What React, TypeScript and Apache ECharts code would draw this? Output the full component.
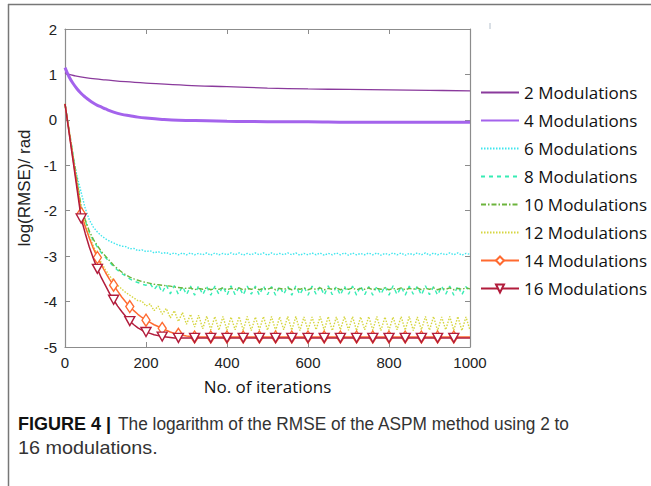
import React, { useEffect, useRef } from "react";
import * as echarts from "echarts";

// iteration sampling grid (every 10 iterations)
const ITERATIONS = Array.from({ length: 101 }, (_, i) => i * 10);

const SERIES_NAMES = [
  "2 Modulations",
  "4 Modulations",
  "6 Modulations",
  "8 Modulations",
  "10 Modulations",
  "12 Modulations",
  "14 Modulations",
  "16 Modulations",
];

const X_TICK_STEP = 200;
const Y_TICK_STEP = 1;

// 2 and 4 modulations (smooth, read at sparse iterations)
const MOD2_X = [0, 10, 25, 50, 75, 100, 150, 200, 300, 400, 500, 600, 700, 800, 900, 1000];
const MOD2_Y = [1.04, 1.0, 0.97, 0.93, 0.9, 0.88, 0.84, 0.81, 0.76, 0.73, 0.7, 0.68, 0.67, 0.66, 0.65, 0.64];

const MOD4_X = [0, 10, 20, 30, 40, 50, 60, 70, 80, 90, 100, 120, 140, 160, 180, 200, 240, 280, 350, 400, 500, 600, 700, 800, 1000];
const MOD4_Y = [1.15, 0.95, 0.8, 0.68, 0.58, 0.5, 0.43, 0.37, 0.32, 0.28, 0.24, 0.17, 0.12, 0.09, 0.06, 0.04, 0.01, -0.01, -0.02, -0.03, -0.04, -0.04, -0.05, -0.05, -0.05];

// remaining series, one value per 10 iterations (0..1000)
const MOD6 = [
  0.35, -0.25, -0.8, -1.25, -1.6, -1.95, -2.2, -2.36, -2.47, -2.55,
  -2.62, -2.67, -2.71, -2.75, -2.78, -2.79, -2.84, -2.83, -2.88, -2.86,
  -2.9, -2.88, -2.93, -2.9, -2.94, -2.92, -2.96, -2.93, -2.97, -2.93,
  -2.97, -2.93, -2.97, -2.94, -2.97, -2.93, -2.98, -2.93, -2.97, -2.94,
  -2.97, -2.93, -2.97, -2.93, -2.98, -2.94, -2.97, -2.93, -2.97, -2.93,
  -2.98, -2.93, -2.97, -2.94, -2.97, -2.93, -2.97, -2.93, -2.98, -2.94,
  -2.97, -2.93, -2.97, -2.93, -2.98, -2.94, -2.97, -2.93, -2.97, -2.93,
  -2.98, -2.93, -2.97, -2.94, -2.97, -2.93, -2.97, -2.93, -2.98, -2.94,
  -2.97, -2.93, -2.97, -2.93, -2.98, -2.94, -2.97, -2.93, -2.97, -2.93,
  -2.98, -2.93, -2.97, -2.94, -2.97, -2.93, -2.97, -2.93, -2.98, -2.94,
  -2.96,
];

const MOD8 = [
  0.35, -0.2, -0.78, -1.33, -1.9, -2.22, -2.48, -2.66, -2.8, -2.93,
  -3.03, -3.13, -3.23, -3.31, -3.38, -3.44, -3.5, -3.55, -3.58, -3.62,
  -3.64, -3.6, -3.74, -3.62, -3.8, -3.63, -3.83, -3.65, -3.84, -3.66,
  -3.85, -3.66, -3.86, -3.65, -3.85, -3.67, -3.86, -3.66, -3.84, -3.66,
  -3.86, -3.65, -3.85, -3.67, -3.86, -3.66, -3.84, -3.66, -3.86, -3.65,
  -3.85, -3.67, -3.86, -3.66, -3.84, -3.66, -3.86, -3.65, -3.85, -3.67,
  -3.86, -3.66, -3.84, -3.66, -3.86, -3.65, -3.85, -3.67, -3.86, -3.66,
  -3.84, -3.66, -3.86, -3.65, -3.85, -3.67, -3.86, -3.66, -3.84, -3.66,
  -3.86, -3.65, -3.85, -3.67, -3.86, -3.66, -3.84, -3.66, -3.86, -3.65,
  -3.85, -3.67, -3.86, -3.66, -3.84, -3.66, -3.86, -3.65, -3.85, -3.67,
  -3.8,
];

const MOD10 = [
  0.35, -0.22, -0.8, -1.35, -1.92, -2.2, -2.45, -2.63, -2.77, -2.9,
  -3.0, -3.1, -3.2, -3.28, -3.35, -3.41, -3.46, -3.5, -3.53, -3.56,
  -3.58, -3.6, -3.62, -3.63, -3.64, -3.65, -3.66, -3.68, -3.69, -3.7,
  -3.71, -3.7, -3.74, -3.71, -3.73, -3.7, -3.74, -3.71, -3.73, -3.7,
  -3.74, -3.71, -3.73, -3.7, -3.74, -3.71, -3.73, -3.7, -3.74, -3.71,
  -3.73, -3.7, -3.74, -3.71, -3.73, -3.7, -3.74, -3.71, -3.73, -3.7,
  -3.74, -3.71, -3.73, -3.7, -3.74, -3.71, -3.73, -3.7, -3.74, -3.71,
  -3.73, -3.7, -3.74, -3.71, -3.73, -3.7, -3.74, -3.71, -3.73, -3.7,
  -3.74, -3.71, -3.73, -3.7, -3.74, -3.71, -3.73, -3.7, -3.74, -3.71,
  -3.73, -3.7, -3.74, -3.71, -3.73, -3.7, -3.74, -3.71, -3.73, -3.7,
  -3.72,
];

const MOD12 = [
  0.35, -0.24, -0.83, -1.4, -1.95, -2.3, -2.55, -2.78, -2.97, -3.15,
  -3.3, -3.43, -3.55, -3.64, -3.72, -3.8, -3.86, -3.92, -3.98, -3.99,
  -4.1, -4.05, -4.2, -4.1, -4.28, -4.15, -4.36, -4.2, -4.44, -4.24,
  -4.5, -4.28, -4.56, -4.3, -4.6, -4.32, -4.62, -4.33, -4.63, -4.33,
  -4.63, -4.34, -4.62, -4.33, -4.63, -4.33, -4.64, -4.34, -4.62, -4.33,
  -4.63, -4.33, -4.64, -4.34, -4.62, -4.33, -4.63, -4.33, -4.64, -4.34,
  -4.63, -4.34, -4.62, -4.33, -4.63, -4.33, -4.64, -4.34, -4.62, -4.33,
  -4.63, -4.33, -4.64, -4.34, -4.62, -4.33, -4.63, -4.33, -4.64, -4.34,
  -4.63, -4.34, -4.62, -4.33, -4.63, -4.33, -4.64, -4.34, -4.62, -4.33,
  -4.63, -4.33, -4.64, -4.34, -4.62, -4.33, -4.63, -4.33, -4.64, -4.34,
  -4.63,
];

const MOD14 = [
  0.35, -0.25, -0.86, -1.46, -2.06, -2.35, -2.6, -2.83, -3.03, -3.2,
  -3.36, -3.51, -3.64, -3.77, -3.9, -4.01, -4.11, -4.2, -4.28, -4.35,
  -4.41, -4.46, -4.51, -4.55, -4.59, -4.63, -4.67, -4.7, -4.72, -4.74,
  -4.76, -4.77, -4.78, -4.78, -4.78, -4.78, -4.78, -4.78, -4.78, -4.78,
  -4.78, -4.78, -4.78, -4.78, -4.78, -4.78, -4.78, -4.78, -4.78, -4.78,
  -4.78, -4.78, -4.78, -4.78, -4.78, -4.78, -4.78, -4.78, -4.78, -4.78,
  -4.78, -4.78, -4.78, -4.78, -4.78, -4.78, -4.78, -4.78, -4.78, -4.78,
  -4.78, -4.78, -4.78, -4.78, -4.78, -4.78, -4.78, -4.78, -4.78, -4.78,
  -4.78, -4.78, -4.78, -4.78, -4.78, -4.78, -4.78, -4.78, -4.78, -4.78,
  -4.78, -4.78, -4.78, -4.78, -4.78, -4.78, -4.78, -4.78, -4.78, -4.78,
  -4.78,
];

const MOD16 = [
  0.35, -0.28, -0.91, -1.54, -2.17, -2.5, -2.8, -3.05, -3.28, -3.48,
  -3.65, -3.82, -3.96, -4.1, -4.22, -4.33, -4.43, -4.51, -4.58, -4.63,
  -4.67, -4.7, -4.73, -4.75, -4.77, -4.78, -4.79, -4.8, -4.8, -4.8,
  -4.8, -4.8, -4.8, -4.8, -4.8, -4.8, -4.8, -4.8, -4.8, -4.8,
  -4.8, -4.8, -4.8, -4.8, -4.8, -4.8, -4.8, -4.8, -4.8, -4.8,
  -4.8, -4.8, -4.8, -4.8, -4.8, -4.8, -4.8, -4.8, -4.8, -4.8,
  -4.8, -4.8, -4.8, -4.8, -4.8, -4.8, -4.8, -4.8, -4.8, -4.8,
  -4.8, -4.8, -4.8, -4.8, -4.8, -4.8, -4.8, -4.8, -4.8, -4.8,
  -4.8, -4.8, -4.8, -4.8, -4.8, -4.8, -4.8, -4.8, -4.8, -4.8,
  -4.8, -4.8, -4.8, -4.8, -4.8, -4.8, -4.8, -4.8, -4.8, -4.8,
  -4.8,
];

const CAPTION_BOLD = "FIGURE 4 |";
const CAPTION_LINE1 = "The logarithm of the RMSE of the ASPM method using 2 to";
const CAPTION_LINE2 = "16 modulations.";

const COLORS = ["#8a3a9c", "#a463ec", "#3fe6ee", "#36ecb4", "#6cb43c", "#d6d640", "#ff6a30", "#b21c3c"];

const pairs = (xs: number[], ys: number[]) => xs.map((x, i) => [x, ys[i]]);

function markerData(ys: number[], symbol: string) {
  return ITERATIONS.map((x, i) => ({
    value: [x, ys[i]],
    symbol: i > 0 && i < 100 && i % 4 === 0 ? symbol : "none",
  }));
}

export default function App() {
  const ref = useRef<HTMLDivElement>(null);

  useEffect(() => {
    if (!ref.current) return;
    const chart = echarts.init(ref.current, null, { renderer: "svg" });
    const axisColor = "#8c8c8c";
    const tickFont = { fontFamily: "Liberation Sans", fontSize: 15, color: "#222" };

    const plain = (idx: number, data: any, lineStyle: any, extra: any = {}) => ({
      name: SERIES_NAMES[idx],
      type: "line",
      data,
      symbol: "none",
      lineStyle: { color: COLORS[idx], ...lineStyle },
      itemStyle: { color: COLORS[idx] },
      emphasis: { disabled: true },
      z: 2 + idx,
      ...extra,
    });

    const legendData = SERIES_NAMES.map((name, i) =>
      i < 6 ? { name, itemStyle: { opacity: 0, color: "rgba(0,0,0,0)", borderWidth: 0 } } : { name }
    );

    const option: any = {
      animation: false,
      backgroundColor: "#ffffff",
      grid: { left: 65, right: 181, top: 29, bottom: 139 },
      legend: {
        orient: "vertical",
        left: 480,
        top: 84,
        padding: 0,
        itemWidth: 38,
        itemHeight: 10,
        itemGap: 11,
        data: legendData,
        selectedMode: false,
        textStyle: { fontFamily: "Open Sans", fontSize: 17, color: "#111" },
      },
      xAxis: [
        {
          type: "value",
          min: 0,
          max: 1000,
          interval: X_TICK_STEP,
          position: "bottom",
          axisLine: { show: true, onZero: false, lineStyle: { color: axisColor, width: 1.2 } },
          axisTick: { show: true, inside: true, length: 5, lineStyle: { color: axisColor } },
          axisLabel: { ...tickFont, margin: 8, formatter: (v: number) => String(v) },
          splitLine: { show: false },
          name: "No. of iterations",
          nameLocation: "middle",
          nameGap: 31,
          nameTextStyle: { fontFamily: "Open Sans", fontSize: 17, color: "#111" },
        },
        {
          type: "value",
          min: 0,
          max: 1000,
          interval: X_TICK_STEP,
          position: "top",
          axisLine: { show: true, onZero: false, lineStyle: { color: axisColor, width: 1.2 } },
          axisTick: { show: true, inside: true, length: 5, lineStyle: { color: axisColor } },
          axisLabel: { show: false },
          splitLine: { show: false },
        },
      ],
      yAxis: [
        {
          type: "value",
          min: -5,
          max: 2,
          interval: Y_TICK_STEP,
          position: "left",
          axisLine: { show: true, onZero: false, lineStyle: { color: axisColor, width: 1.2 } },
          axisTick: { show: true, inside: true, length: 5, lineStyle: { color: axisColor } },
          axisLabel: { ...tickFont, margin: 8 },
          splitLine: { show: false },
          name: "log(RMSE)/ rad",
          nameLocation: "middle",
          nameRotate: 90,
          nameGap: 28,
          nameTextStyle: { fontFamily: "Liberation Sans", fontSize: 17, color: "#222" },
        },
        {
          type: "value",
          min: -5,
          max: 2,
          interval: Y_TICK_STEP,
          position: "right",
          axisLine: { show: true, onZero: false, lineStyle: { color: axisColor, width: 1.2 } },
          axisTick: { show: true, inside: true, length: 5, lineStyle: { color: axisColor } },
          axisLabel: { show: false },
          splitLine: { show: false },
        },
      ],
      series: [
        plain(0, pairs(MOD2_X, MOD2_Y), { width: 1.3 }, { smooth: 0.4 }),
        plain(1, pairs(MOD4_X, MOD4_Y), { width: 3 }, { smooth: 0.4 }),
        plain(2, pairs(ITERATIONS, MOD6), { width: 1.4, type: [1.5, 1.5] }),
        plain(3, pairs(ITERATIONS, MOD8), { width: 1.4, type: [4, 4] }),
        plain(4, pairs(ITERATIONS, MOD10), { width: 1.4, type: [5, 2, 1.5, 2] }),
        plain(5, pairs(ITERATIONS, MOD12), { width: 1.4, type: [1.5, 1.5] }),
        {
          name: SERIES_NAMES[6],
          type: "line",
          data: markerData(MOD14, "diamond"),
          symbol: "diamond",
          symbolSize: [8, 12],
          showAllSymbol: true,
          lineStyle: { color: COLORS[6], width: 1.5 },
          itemStyle: { color: "#ffffff", borderColor: COLORS[6], borderWidth: 1.4 },
          emphasis: { disabled: true },
          z: 8,
        },
        {
          name: SERIES_NAMES[7],
          type: "line",
          data: markerData(MOD16, "triangle"),
          symbol: "triangle",
          symbolRotate: 180,
          symbolSize: [10, 9],
          showAllSymbol: true,
          lineStyle: { color: COLORS[7], width: 1.5 },
          itemStyle: { color: "#ffffff", borderColor: COLORS[7], borderWidth: 1.4 },
          emphasis: { disabled: true },
          z: 9,
        },
      ],
      graphic: [
        { type: "line", shape: { x1: 8, y1: 4.5, x2: 651, y2: 4.5 }, style: { stroke: "#777", lineWidth: 1.5 }, silent: true },
        { type: "line", shape: { x1: 8.5, y1: 4, x2: 8.5, y2: 486 }, style: { stroke: "#777", lineWidth: 1.5 }, silent: true },
        { type: "line", shape: { x1: 490, y1: 23, x2: 490, y2: 29 }, style: { stroke: "#b4c0cc", lineWidth: 1 }, silent: true },
        {
          type: "text",
          x: 18,
          y: 424,
          style: {
            text: CAPTION_BOLD,
            fontFamily: "Liberation Sans",
            fontSize: 18,
            fontWeight: "bold",
            fill: "#111",
            textAlign: "left",
            textVerticalAlign: "middle",
            align: "left",
            verticalAlign: "middle",
          },
          silent: true,
        },
        {
          type: "text",
          x: 118,
          y: 424,
          scaleX: 0.96,
          style: {
            text: CAPTION_LINE1,
            fontFamily: "Liberation Sans",
            fontSize: 18,
            fill: "#333",
            textAlign: "left",
            textVerticalAlign: "middle",
            align: "left",
            verticalAlign: "middle",
          },
          silent: true,
        },
        {
          type: "text",
          x: 18,
          y: 448,
          scaleX: 1.1,
          style: {
            text: CAPTION_LINE2,
            fontFamily: "Liberation Sans",
            fontSize: 18,
            fill: "#333",
            textAlign: "left",
            textVerticalAlign: "middle",
            align: "left",
            verticalAlign: "middle",
          },
          silent: true,
        },
      ],
    };

    chart.setOption(option);
    return () => chart.dispose();
  }, []);

  return (
    <div
      ref={ref}
      style={{ position: "fixed", left: 0, top: 0, width: 651, height: 486, background: "#fff" }}
    />
  );
}
